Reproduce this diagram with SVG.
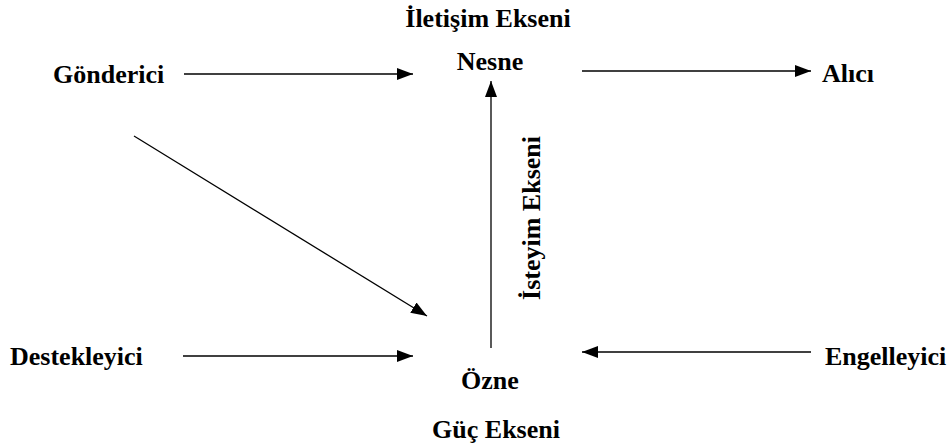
<svg xmlns="http://www.w3.org/2000/svg" width="952" height="448" viewBox="0 0 952 448">
<defs>
<marker id="ah" markerWidth="16" markerHeight="12" refX="16" refY="6" orient="auto" markerUnits="userSpaceOnUse"><path d="M0,0 L16,6 L0,12 z" fill="#000"/></marker>
<style>
text{font-family:"Liberation Serif","Times New Roman",serif;font-weight:bold;font-size:26px;fill:#000}
.c{stroke:#000;stroke-width:1.3;fill:none;marker-end:url(#ah)}
</style>
</defs>
<rect width="952" height="448" fill="#fff"/>
<g id="connectors">
<line class="c" x1="184" y1="74" x2="413" y2="74"/>
<line class="c" x1="582" y1="71" x2="811" y2="71"/>
<line class="c" x1="134" y1="136" x2="427" y2="316"/>
<line class="c" x1="491" y1="348" x2="491" y2="81"/>
<line class="c" x1="183" y1="356" x2="413" y2="356"/>
<line class="c" x1="811" y1="352" x2="582" y2="352"/>
</g>
<g id="iletisim"><text x="488" y="27" text-anchor="middle">İletişim Ekseni</text></g>
<g id="nesne"><text x="490" y="70" text-anchor="middle">Nesne</text></g>
<g id="gonderici"><text x="53" y="83">Gönderici</text></g>
<g id="alici"><text x="822" y="82">Alıcı</text></g>
<g id="isteyim"><text transform="translate(540,218) rotate(-90)" text-anchor="middle">İsteyim Ekseni</text></g>
<g id="destekleyici"><text x="10" y="365">Destekleyici</text></g>
<g id="engelleyici"><text x="825" y="365">Engelleyici</text></g>
<g id="ozne"><text x="490" y="389" text-anchor="middle">Özne</text></g>
<g id="guc"><text x="496" y="438" text-anchor="middle">Güç Ekseni</text></g>
</svg>
